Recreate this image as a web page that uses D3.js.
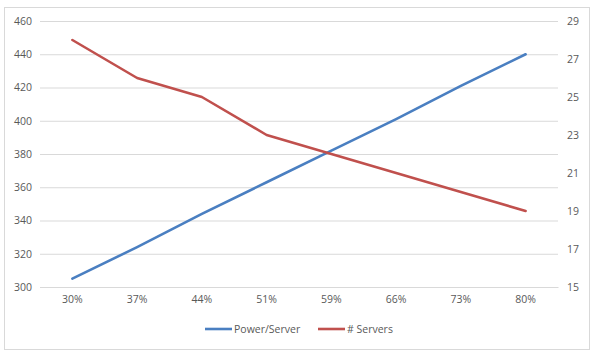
<!DOCTYPE html>
<html><head><meta charset="utf-8">
<script src="https://cdn.jsdelivr.net/npm/d3@7"></script>
<style>body{margin:0;background:#fff}text{font-family:"Open Sans",Calibri,sans-serif;fill:#595959}</style>
</head><body>
<svg id="c" width="600" height="360"></svg>
<script>
const categories = ["30%","37%","44%","51%","59%","66%","73%","80%"];
const powerPerServer = [305,324,344,363,382,401,421,440];
const numServers = [28,26,25,23,22,21,20,19];
const leftTicks = [300,320,340,360,380,400,420,440,460];
const rightTicks = [15,17,19,21,23,25,27,29];

const svg = d3.select("#c");
svg.append("rect").attr("x",4.5).attr("y",7.5).attr("width",585).attr("height",342)
  .attr("fill","#fff").attr("stroke","#d9d9d9");

const x = d3.scaleBand().domain(categories).range([40,558]);
const yL = d3.scaleLinear().domain([300,460]).range([287,21]);
const yR = d3.scaleLinear().domain([15,29]).range([287,21]);

const grid = svg.append("g").call(d3.axisLeft(yL).tickValues(leftTicks).tickSize(-518).tickFormat(""))
  .attr("transform","translate(40,0)");
grid.selectAll("line").attr("stroke","#d9d9d9");
grid.select(".domain").remove();

const gl = svg.append("g").attr("transform","translate(40,0)")
  .call(d3.axisLeft(yL).tickValues(leftTicks).tickSize(0).tickPadding(8));
gl.select(".domain").remove();
gl.selectAll("text").style("font-size","10.5px").attr("fill","#595959");

const gr = svg.append("g").attr("transform","translate(558,0)")
  .call(d3.axisRight(yR).tickValues(rightTicks).tickSize(0).tickPadding(9));
gr.select(".domain").remove();
gr.selectAll("text").style("font-size","10.5px").attr("fill","#595959");

const gx = svg.append("g").attr("transform","translate(0,287)")
  .call(d3.axisBottom(x).tickSize(0).tickPadding(9));
gx.select(".domain").attr("stroke","#d9d9d9");
gx.selectAll("text").style("font-size","10.5px").attr("fill","#595959");

const cx = d => x(d) + x.bandwidth()/2;
svg.append("path").datum(powerPerServer.map((v,i)=>[categories[i],v]))
  .attr("fill","none").attr("stroke","#4a7fc1").attr("stroke-width",2.6).attr("stroke-linejoin","round").attr("stroke-linecap","round")
  .attr("d", d3.line().x(d=>cx(d[0])).y(d=>yL(d[1])));
svg.append("path").datum(numServers.map((v,i)=>[categories[i],v]))
  .attr("fill","none").attr("stroke","#c0504d").attr("stroke-width",2.6).attr("stroke-linejoin","round").attr("stroke-linecap","round")
  .attr("d", d3.line().x(d=>cx(d[0])).y(d=>yR(d[1])));

const legend = [{name:"Power/Server",color:"#4a7fc1",x:205},{name:"# Servers",color:"#c0504d",x:318}];
const lg = svg.append("g");
legend.forEach(l=>{
  lg.append("line").attr("x1",l.x).attr("x2",l.x+27).attr("y1",329).attr("y2",329).attr("stroke",l.color).attr("stroke-width",2.6);
  lg.append("text").attr("x",l.x+29).attr("y",329).attr("dy","0.35em").style("font-size","10.5px").text(l.name);
});
</script>
</body></html>
